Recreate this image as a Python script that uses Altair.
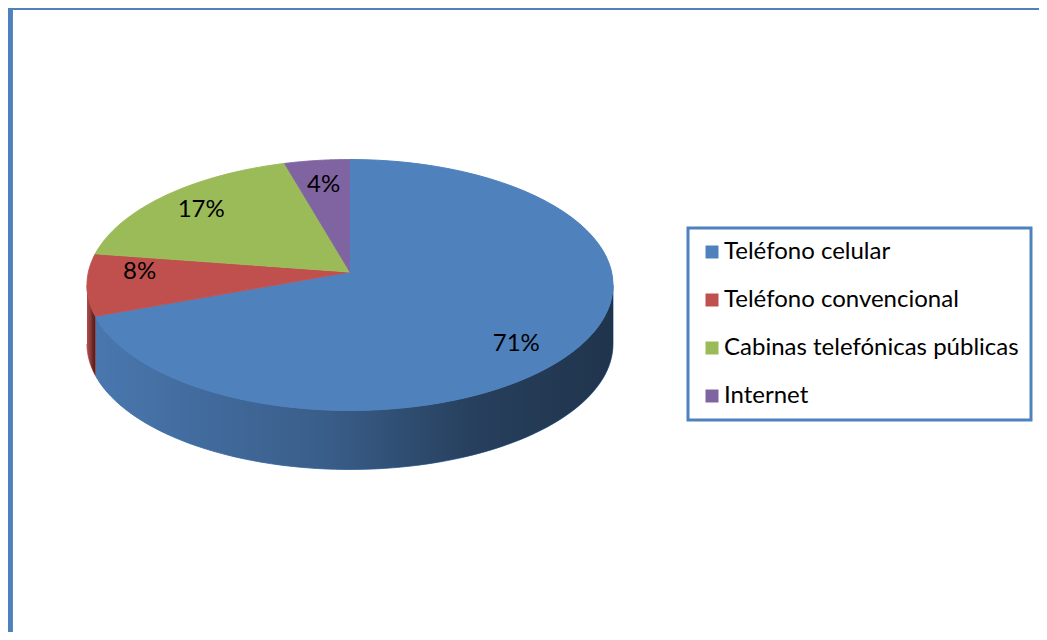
import altair as alt
import pandas as pd

# ---- data ----
categories = ["Teléfono celular", "Teléfono convencional",
              "Cabinas telefónicas públicas", "Internet"]
values = [71, 8, 17, 4]
colors = ["#4f81bd", "#c0504d", "#9bbb59", "#8064a2"]

# ---- layout (pixel-like units of the plotting frame) ----
W, H = 1031, 624
CX, CY = 342, 277      # ellipse centre of the top face
AX, AY = 342, 264      # apex where slices meet (perspective shift)
RX, RY = 263, 125.5    # ellipse radii
DEPTH = 59             # thickness of the pie
N = 80                 # points per arc

df = pd.DataFrame({"cat": categories, "val": values, "idx": list(range(len(values)))})

xs = alt.Scale(domain=[0, W], nice=False, zero=False)
ys = alt.Scale(domain=[0, H], nice=False, zero=False, reverse=True)
cscale = alt.Scale(domain=categories, range=colors)

base = alt.Chart(df).transform_window(
    cum="sum(val)", sort=[alt.SortField("idx")], frame=[None, 0]
).transform_joinaggregate(
    total="sum(val)"
).transform_calculate(
    a0="PI/2 - 2*PI*(datum.cum - datum.val)/datum.total",
    a1="PI/2 - 2*PI*datum.cum/datum.total",
)

legend = alt.Legend(
    title=None, orient="none", legendX=680, legendY=220,
    symbolType="square", symbolSize=169, symbolStrokeWidth=0,
    labelFont="Lato", labelFontSize=24, labelColor="black", labelLimit=0,
    rowPadding=24, padding=12, labelOffset=0,
    strokeColor="#4f81bd", cornerRadius=0,
)

# top face of each slice
top = base.transform_calculate(
    i=f"sequence(-1, {N + 1})"
).transform_flatten(["i"]).transform_calculate(
    th=f"datum.a0 + (datum.a1 - datum.a0) * datum.i / {N}"
).transform_calculate(
    px=f"datum.i < 0 ? {AX} : {CX} + {RX} * cos(datum.th)",
    py=f"datum.i < 0 ? {AY} : {CY} - {RY} * sin(datum.th)",
).mark_line(strokeWidth=1, interpolate="linear").encode(
    x=alt.X("px:Q", scale=xs, axis=None),
    y=alt.Y("py:Q", scale=ys, axis=None),
    order=alt.Order("i:Q"),
    fill=alt.Fill("cat:N", scale=cscale, legend=legend, sort=categories),
    stroke=alt.Stroke("cat:N", scale=cscale, legend=None, sort=categories),
    detail="cat:N",
)

# visible (front) side of each slice
side_base = base.transform_calculate(
    s0="max(min(datum.a0, datum.a1), -PI)",
    s1="min(max(datum.a0, datum.a1), 0)",
).transform_filter(
    "datum.s1 > datum.s0"
).transform_calculate(
    i=f"sequence(0, {2 * N + 2})"
).transform_flatten(["i"]).transform_calculate(
    th=(f"datum.i <= {N} ? datum.s0 + (datum.s1 - datum.s0) * datum.i / {N}"
        f" : datum.s1 - (datum.s1 - datum.s0) * (datum.i - {N + 1}) / {N}")
).transform_calculate(
    px=f"{CX} + {RX} * cos(datum.th)",
    py=f"{CY} - {RY} * sin(datum.th) + (datum.i > {N} ? {DEPTH} : 0)",
)

side = side_base.mark_line(strokeWidth=1).encode(
    x=alt.X("px:Q", scale=xs, axis=None),
    y=alt.Y("py:Q", scale=ys, axis=None),
    order=alt.Order("i:Q"),
    fill=alt.Fill("cat:N", scale=cscale, legend=legend, sort=categories),
    stroke=alt.Stroke("cat:N", scale=cscale, legend=None, sort=categories),
    detail="cat:N",
)

shade = side_base.mark_line(
    strokeWidth=0,
    fill=alt.Gradient(
        gradient="linear", x1=0, x2=1, y1=0, y2=0,
        stops=[
            alt.GradientStop(color="rgba(0,0,0,0.08)", offset=0),
            alt.GradientStop(color="rgba(0,0,0,0.28)", offset=0.45),
            alt.GradientStop(color="rgba(0,0,0,0.50)", offset=0.72),
            alt.GradientStop(color="rgba(0,0,0,0.60)", offset=1),
        ],
    ),
).encode(
    x=alt.X("px:Q", scale=xs, axis=None),
    y=alt.Y("py:Q", scale=ys, axis=None),
    order=alt.Order("i:Q"),
    detail="cat:N",
)

labels = base.transform_calculate(
    m="(datum.a0 + datum.a1) / 2"
).transform_calculate(
    lx=f"{AX} + 0.8 * {RX} * cos(datum.m)",
    ly=f"{AY} - 0.7 * {RY} * sin(datum.m) + 0.5 * {DEPTH} * max(0, -sin(datum.m))",
    txt="round(100 * datum.val / datum.total) + '%'",
).mark_text(font="Lato", fontSize=24, color="black").encode(
    x=alt.X("lx:Q", scale=xs, axis=None),
    y=alt.Y("ly:Q", scale=ys, axis=None),
    text="txt:N",
)

# chart-area frame: only its left and top edges fall inside the picture
frame_left = alt.Chart(df).mark_rule(color="#4f81bd", strokeWidth=5).encode(
    x=alt.value(2), y=alt.value(-2), y2=alt.value(H)
)
frame_top = alt.Chart(df).mark_rule(color="#4f81bd", strokeWidth=3).encode(
    x=alt.value(0), x2=alt.value(W), y=alt.value(0.5)
)

chart = alt.layer(side, shade, top, labels, frame_left, frame_top).properties(
    width=W, height=H, padding=0, autosize=alt.AutoSizeParams(type="none")
).configure_view(
    stroke=None
).configure_legend(
    strokeWidth=3
)

chart.save("out.html", embed_options={"renderer": "svg", "actions": False})
